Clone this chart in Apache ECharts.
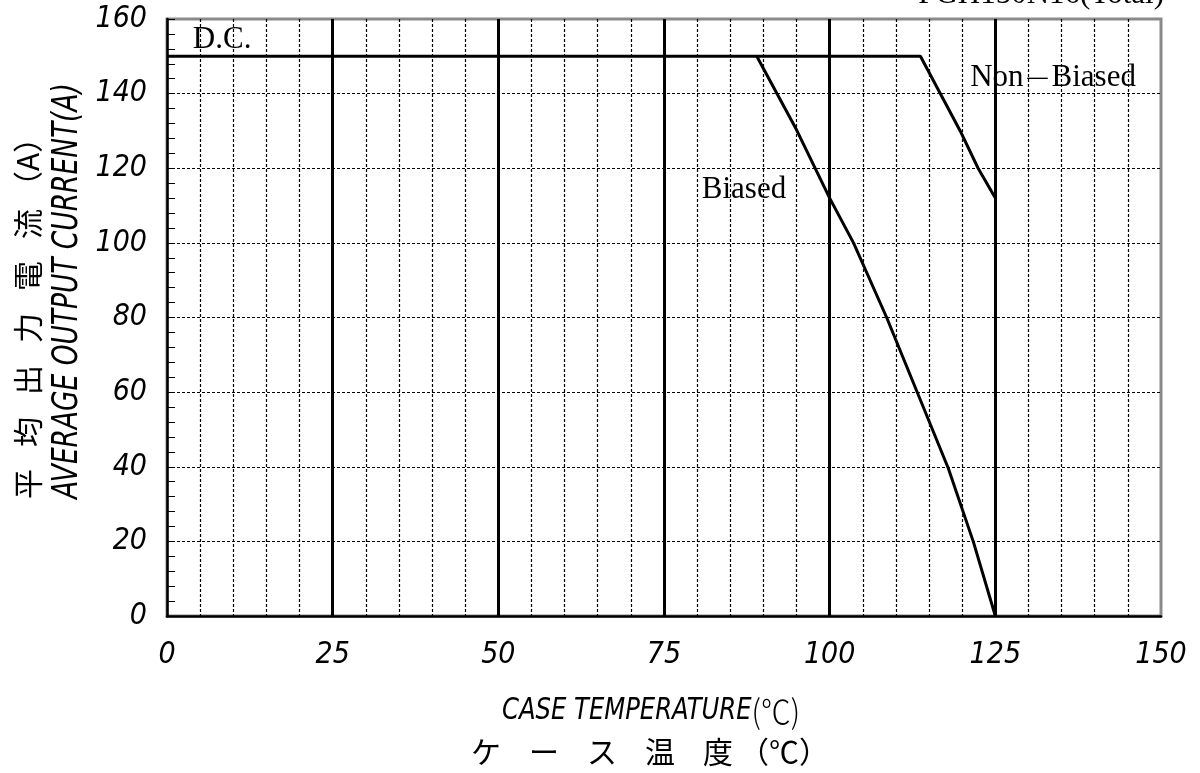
<!DOCTYPE html>
<html>
<head>
<meta charset="utf-8">
<script src="https://cdn.jsdelivr.net/npm/echarts@6/dist/echarts.min.js"></script>
<style>
html,body{margin:0;padding:0;background:#fff;}
#chart{width:1200px;height:773px;}
</style>
</head>
<body>
<div id="chart"></div>
<script>
// ---- data ----
var nonBiasedX = [0, 113.7, 119.7, 122.4, 125];
var nonBiasedY = [150, 150, 130, 120, 112];
var biasedX = [89, 95, 100, 103.6, 108.6, 113.6, 117.9, 121.7, 125];
var biasedY = [150, 130.3, 112, 100, 80, 58.3, 39.6, 19.8, 0];
var xTickLabels = ['0', '25', '50', '75', '100', '125', '150'];
var yTickLabels = ['0', '20', '40', '60', '80', '100', '120', '140', '160'];
var titleText = 'PGH150N16(Total)';
var labelDC = 'D.C.';
var labelBiased = 'Biased';
var labelNonBiased = ['Non', '－', 'Biased'];
var yNameEn = 'AVERAGE OUTPUT CURRENT(A)';
var yNameJa = ['平', '均', '出', '力', '電', '流', '（A）'];
var xNameEn = 'CASE TEMPERATURE';
var xNameUnit = '(℃)';
var xNameJa = ['ケ', 'ー', 'ス', '温', '度', '（℃）'];

function zip(xs, ys) { return xs.map(function (x, i) { return [x, ys[i]]; }); }

var numFont = '"Liberation Sans Narrow","DejaVu Sans Condensed","Liberation Sans",sans-serif';
var serif = '"Liberation Serif","DejaVu Serif",serif';
var cjk = '"Noto Sans CJK JP","Noto Sans CJK SC",sans-serif';

function spaced(chars) {
  return chars.map(function (c, i) { return '{t' + i + '|' + c + '}'; }).join('');
}
function spacedRich(chars, widths, size) {
  var r = {};
  chars.forEach(function (c, i) {
    r['t' + i] = {fontFamily: cjk, fontSize: size, fill: '#000', color: '#000'};
    if (widths[i]) { r['t' + i].width = widths[i]; }
  });
  return r;
}
var yJaWidths = [52, 52, 52, 52, 52, 38, 0];
var xJaWidths = [58, 58, 58, 58, 36, 0];

var chart = echarts.init(document.getElementById('chart'), null, {renderer: 'canvas'});
var option = {
  backgroundColor: '#fff',
  animation: false,
  grid: {left: 167, right: 39, top: 19, bottom: 157, show: true, borderColor: '#8a8a8a', borderWidth: 3, backgroundColor: 'transparent'},
  xAxis: [{
    type: 'value', min: 0, max: 150, interval: 25,
    axisLine: {show: true, onZero: false, lineStyle: {color: '#000', width: 2.5}},
    axisTick: {show: false},
    axisLabel: {margin: 24, fontSize: 30, fontStyle: 'italic', fontFamily: numFont, color: '#000',
      formatter: function (v) { return xTickLabels[Math.round(v / 25)]; }},
    splitLine: {show: true, showMinLine: false, showMaxLine: false, lineStyle: {color: '#000', width: 3, type: 'solid'}}
  }, {
    type: 'value', min: 0, max: 150, interval: 5, position: 'bottom',
    axisLine: {show: false}, axisTick: {show: false}, axisLabel: {show: false},
    splitLine: {show: true, showMinLine: false, showMaxLine: false, lineStyle: {color: '#000', width: 1.2, type: [3, 2]}}
  }],
  yAxis: {
    type: 'value', min: 0, max: 160, interval: 20,
    axisLine: {show: true, onZero: false, lineStyle: {color: '#000', width: 2.5}},
    axisTick: {show: true, inside: true, length: 8, lineStyle: {color: '#000', width: 1}},
    minorTick: {show: true, splitNumber: 5, length: 8, lineStyle: {color: '#000', width: 1}},
    axisLabel: {margin: 20, fontSize: 30, fontStyle: 'italic', fontFamily: numFont, color: '#000',
      formatter: function (v) { return yTickLabels[Math.round(v / 20)]; }},
    splitLine: {show: true, showMinLine: false, showMaxLine: false, lineStyle: {color: '#000', width: 1.2, type: [3, 2]}}
  },
  series: [{
    type: 'line', xAxisIndex: 0, data: zip(nonBiasedX, nonBiasedY), symbol: 'none',
    lineStyle: {color: '#000', width: 3}, z: 5,
    markPoint: {
      symbol: 'circle', symbolSize: 0, silent: true,
      label: {show: true, color: '#000', fontFamily: serif, fontSize: 31, position: 'right', distance: 0,
        rich: {s: {fontFamily: serif, fontSize: 31, color: '#000'}, d: {fontFamily: cjk, fontSize: 28, color: '#000', fontWeight: 300}}},
      data: [
        {coord: [3.9, 154.4], value: labelDC, label: {formatter: labelDC}},
        {coord: [80.7, 114.2], value: labelBiased, label: {formatter: labelBiased}},
        {coord: [121.2, 144.2], value: labelNonBiased.join(''),
          label: {formatter: '{s|' + labelNonBiased[0] + '}{d|' + labelNonBiased[1] + '}{s|' + labelNonBiased[2] + '}'}}
      ]
    }
  }, {
    type: 'line', xAxisIndex: 0, data: zip(biasedX, biasedY), symbol: 'none',
    lineStyle: {color: '#000', width: 3}, z: 5
  }],
  graphic: [
    {type: 'text', x: 1164, y: 10, z: 10, style: {text: titleText, font: '31px ' + serif, fill: '#000', align: 'right', verticalAlign: 'bottom'}},
    {type: 'text', x: 68, y: 291, rotation: Math.PI / 2, scaleX: 0.84, style: {text: yNameEn, font: 'italic 35px ' + numFont, fill: '#000', align: 'center', verticalAlign: 'middle'}},
    {type: 'text', x: 28, y: 499, rotation: Math.PI / 2, style: {
      text: spaced(yNameJa), rich: spacedRich(yNameJa, yJaWidths, 30), align: 'left', verticalAlign: 'middle'}},
    {type: 'text', x: 651, y: 711, scaleX: 0.9, style: {
      text: '{a|' + xNameEn + '}{b|' + xNameUnit + '}', align: 'center', verticalAlign: 'middle',
      rich: {a: {fontFamily: numFont, fontStyle: 'italic', fontSize: 30, fill: '#000', color: '#000'},
             b: {fontFamily: cjk, fontSize: 33, fontWeight: 300, color: '#000', fill: '#000'}}}},
    {type: 'text', x: 471, y: 752, style: {
      text: spaced(xNameJa), rich: spacedRich(xNameJa, xJaWidths, 30), align: 'left', verticalAlign: 'middle'}}
  ]
};
chart.setOption(option);
</script>
</body>
</html>
